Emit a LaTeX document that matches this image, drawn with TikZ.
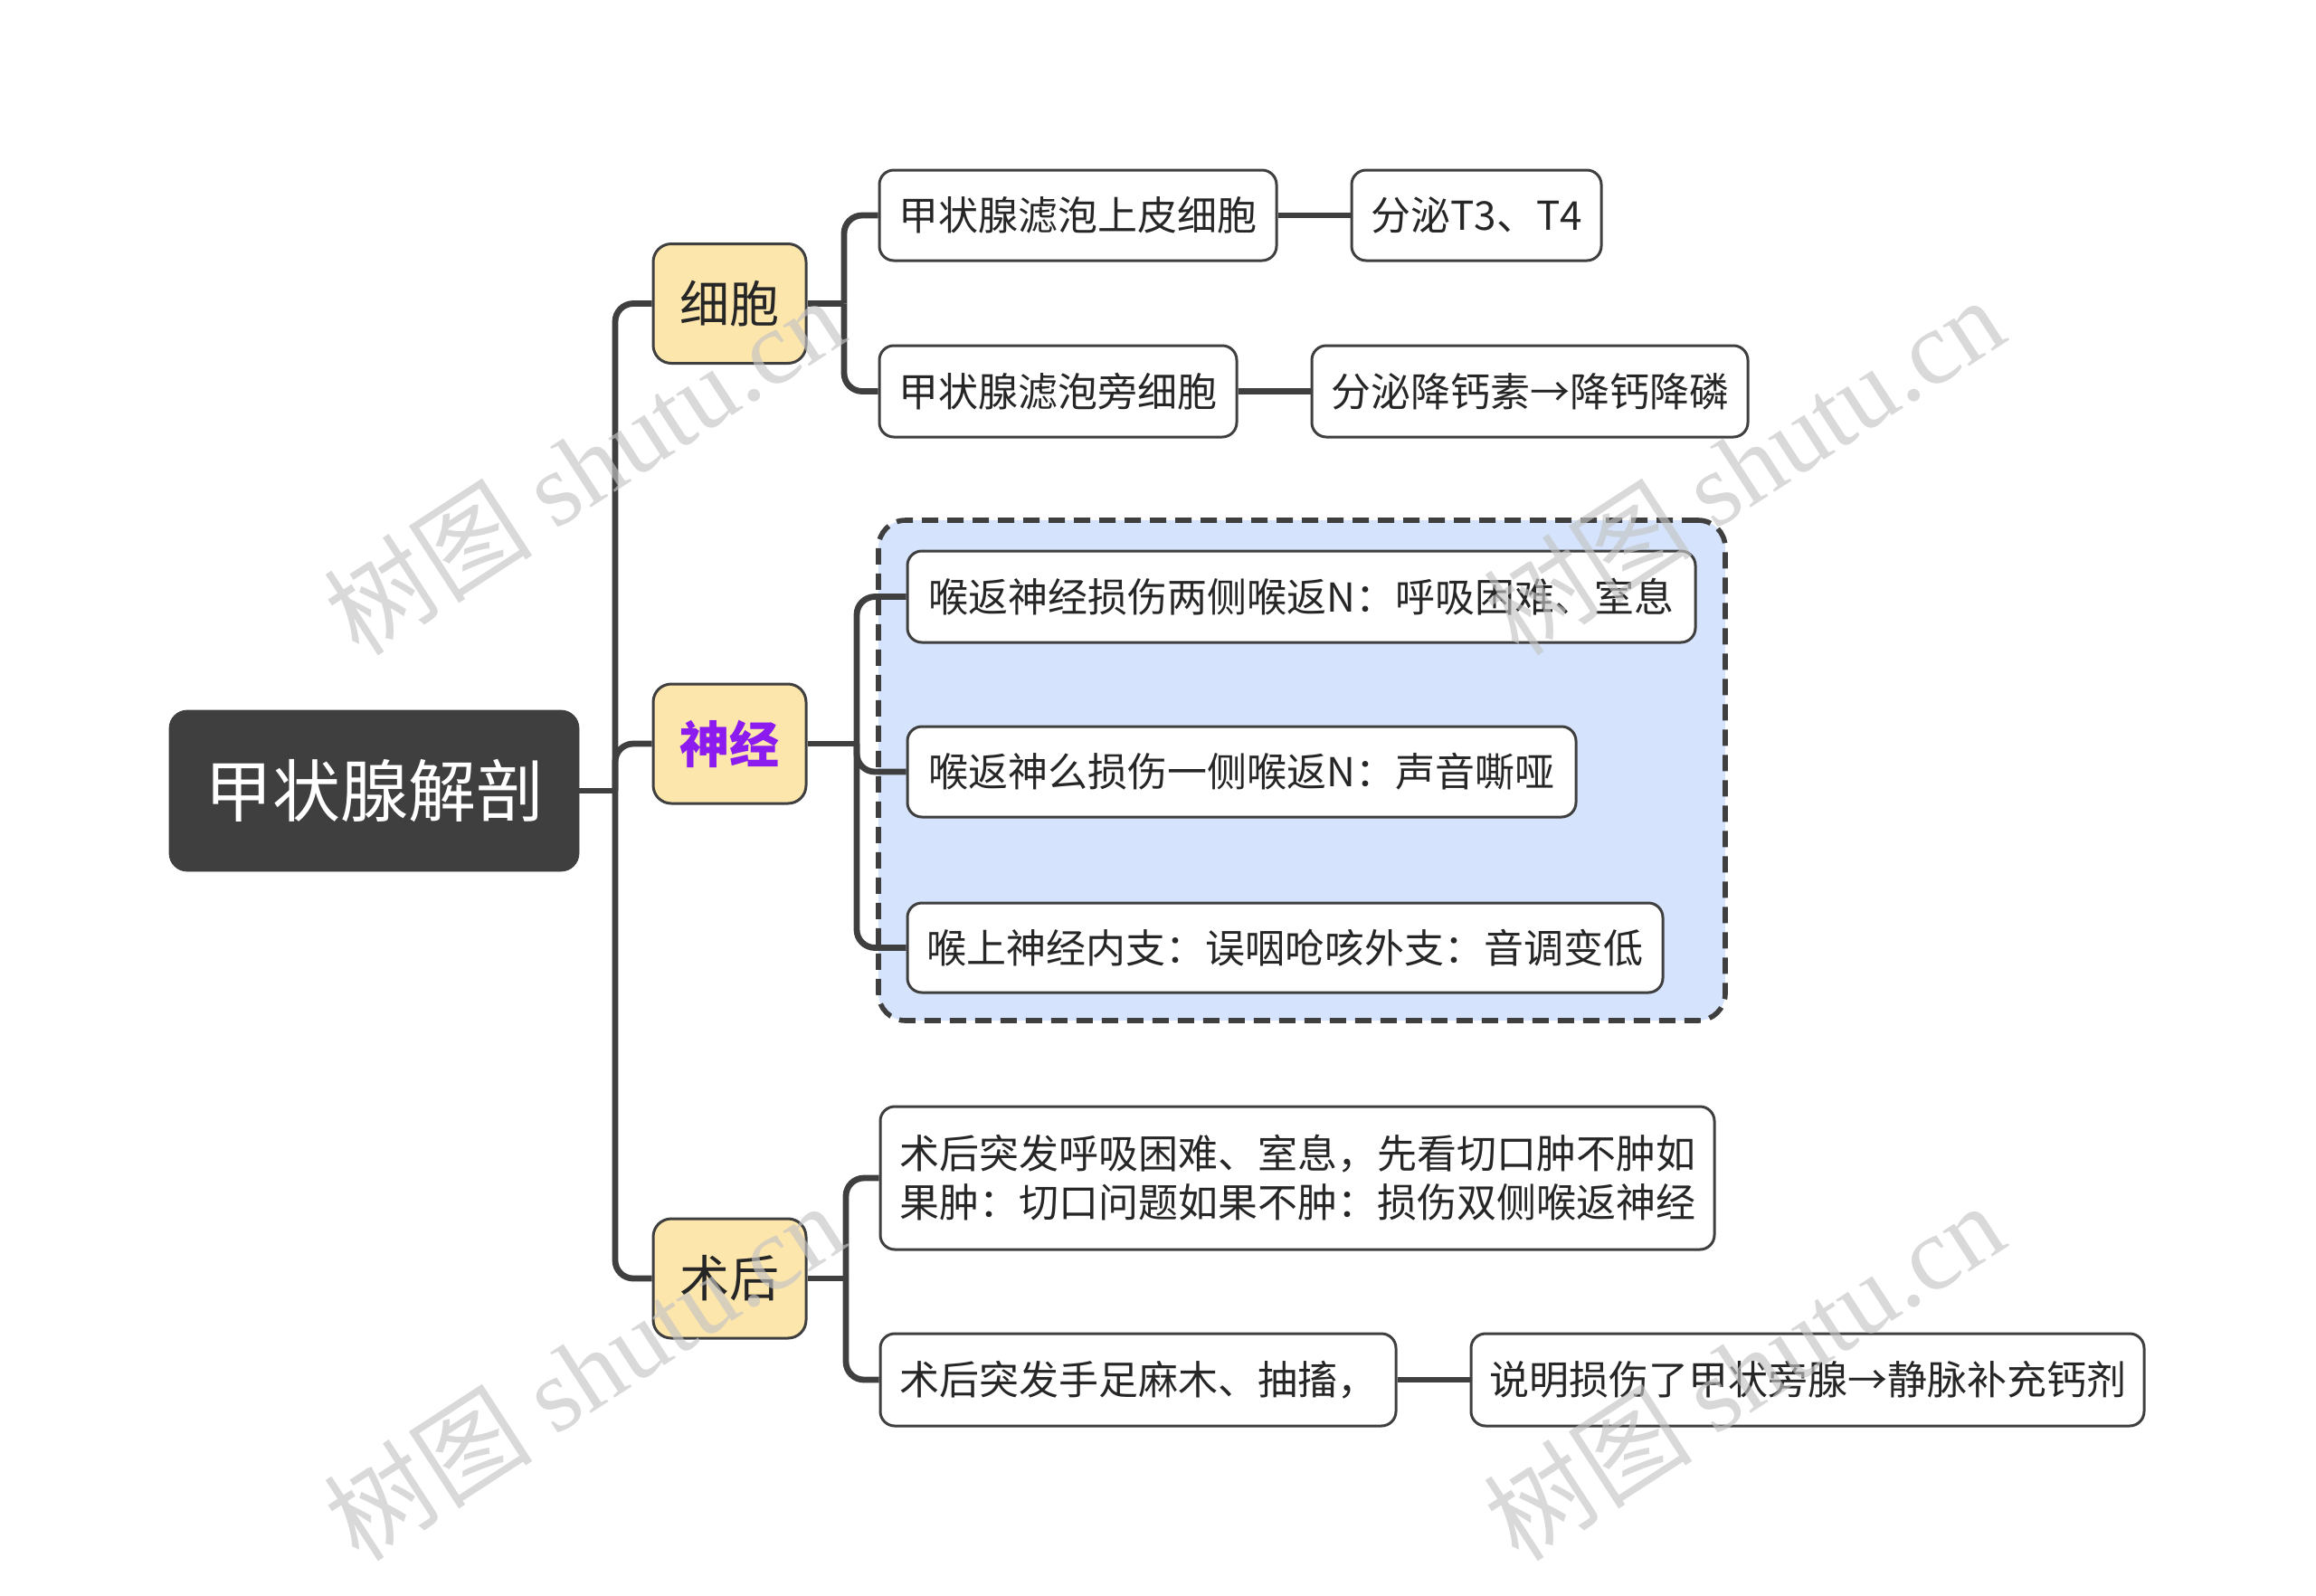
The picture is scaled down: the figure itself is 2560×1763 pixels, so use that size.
\documentclass[tikz,border=0pt]{standalone}
\usepackage{fontspec}
\setmainfont{Noto Sans CJK SC}
\newfontfamily\wmserif{Liberation Serif}
\newfontfamily\wmcjk{Noto Sans CJK SC}
\definecolor{dk}{HTML}{3F3F3F}
\definecolor{txt}{HTML}{262626}
\definecolor{yel}{HTML}{FDE6AC}
\definecolor{blu}{HTML}{D5E4FC}
\definecolor{pur}{HTML}{8B1BEF}
\definecolor{wmc}{HTML}{C4C4C4}
\tikzset{
  rootbox/.style={fill=dk, draw=dk, rounded corners=10pt, text=white, inner sep=0pt,
    font=\fontsize{37.5}{42}\selectfont},
  lvlone/.style={fill=yel, draw=dk, line width=1.5pt, rounded corners=10pt, text=txt, inner sep=0pt,
    minimum width=84.5pt, minimum height=66pt, font=\fontsize{27.5}{32}\selectfont},
  lvltwo/.style={fill=white, draw=dk, line width=1.5pt, rounded corners=8pt, text=txt, inner sep=0pt,
    font=\fontsize{22}{27}\selectfont},
  link/.style={draw=dk, line width=3.4pt, rounded corners=10pt},
  grp/.style={fill=blu, draw=dk, line width=2.8pt, rounded corners=15pt, dash pattern=on 9pt off 5pt},
  wm/.style={text=wmc, opacity=0.65, rotate=33, inner sep=0pt, font=\fontsize{58}{60}\selectfont}
}
\begin{document}
\begin{tikzpicture}[x=0.5pt,y=-0.5pt]
\useasboundingbox (0,0) rectangle (2560,1763);
% group background
\node[grp, minimum width=468pt, minimum height=276.5pt] (grp) at (1439,851.5) {};
% nodes
\node[rootbox, minimum width=226.5pt, minimum height=89pt] (root) at (413.5,874) {甲状腺解剖};
\node[lvlone] (xb) at (806.5,335.5) {细胞};
\node[lvlone, text=pur, font=\fontsize{27.5}{32}\selectfont\bfseries] (sj) at (806.5,822) {神经};
\node[lvlone] (sh) at (806.5,1413) {术后};
\node[lvltwo, minimum width=219.5pt, minimum height=50pt] (a1) at (1191.5,238) {甲状腺滤泡上皮细胞};
\node[lvltwo, minimum width=138pt, minimum height=50pt] (a2) at (1632,238) {分泌T3、T4};
\node[lvltwo, minimum width=197.5pt, minimum height=50.5pt] (b1) at (1169.5,432.5) {甲状腺滤泡旁细胞};
\node[lvltwo, minimum width=241pt, minimum height=50.5pt] (b2) at (1691,432.5) {分泌降钙素→降钙降磷};
\node[lvltwo, minimum width=435.5pt, minimum height=50.5pt] (c1) at (1438.5,659.5) {喉返神经损伤两侧喉返N：呼吸困难、室息};
\node[lvltwo, minimum width=369.5pt, minimum height=50pt] (c2) at (1372.5,853) {喉返神么损伤一侧喉返N：声音嘶哑};
\node[lvltwo, minimum width=417.5pt, minimum height=49.5pt] (c3) at (1420.5,1047.5) {喉上神经内支：误咽呛咳外支：音调变低};
\node[lvltwo, minimum width=461pt, minimum height=79pt, align=left] (d1) at (1434,1302) {术后突发呼吸困难、室息，先看切口肿不肿如\\果肿：切口问题如果不肿：损伤双侧喉返神经};
\node[lvltwo, minimum width=285pt, minimum height=51pt] (d2) at (1258,1525) {术后突发手足麻木、抽搐，};
\node[lvltwo, minimum width=372pt, minimum height=51pt] (d3) at (1998,1525) {说明损伤了甲状旁腺→静脉补充钙剂};
% junctions
\coordinate (j0) at (680,874);
\coordinate (j1) at (933,335.5);
\coordinate (j2) at (947,822);
\coordinate (j3) at (935,1413);
% connectors
\draw[link] (root.east) -- (j0);
\draw[link] (j0) |- (xb.west);
\draw[link] (j0) |- (sj.west);
\draw[link] (j0) |- (sh.west);
\draw[link] (xb.east) -- (j1);
\draw[link] (j1) |- (a1.west);
\draw[link] (j1) |- (b1.west);
\draw[link] (sj.east) -- (j2);
\draw[link] (j2) |- (c1.west);
\draw[link] (j2) |- (c2.west);
\draw[link] (j2) |- (c3.west);
\draw[link] (sh.east) -- (j3);
\draw[link] (j3) |- (d1.west);
\draw[link] (j3) |- (d2.west);
\draw[link] (a1.east) -- (a2.west);
\draw[link] (b1.east) -- (b2.west);
\draw[link] (d2.east) -- (d3.west);
% watermarks
\node[wm] (w1) at (645,514) {\wmcjk 树图 \wmserif shutu.cn};
\node[wm] (w2) at (1927,514) {\wmcjk 树图 \wmserif shutu.cn};
\node[wm] (w3) at (645,1515) {\wmcjk 树图 \wmserif shutu.cn};
\node[wm] (w4) at (1927,1515) {\wmcjk 树图 \wmserif shutu.cn};
\end{tikzpicture}
\end{document}
